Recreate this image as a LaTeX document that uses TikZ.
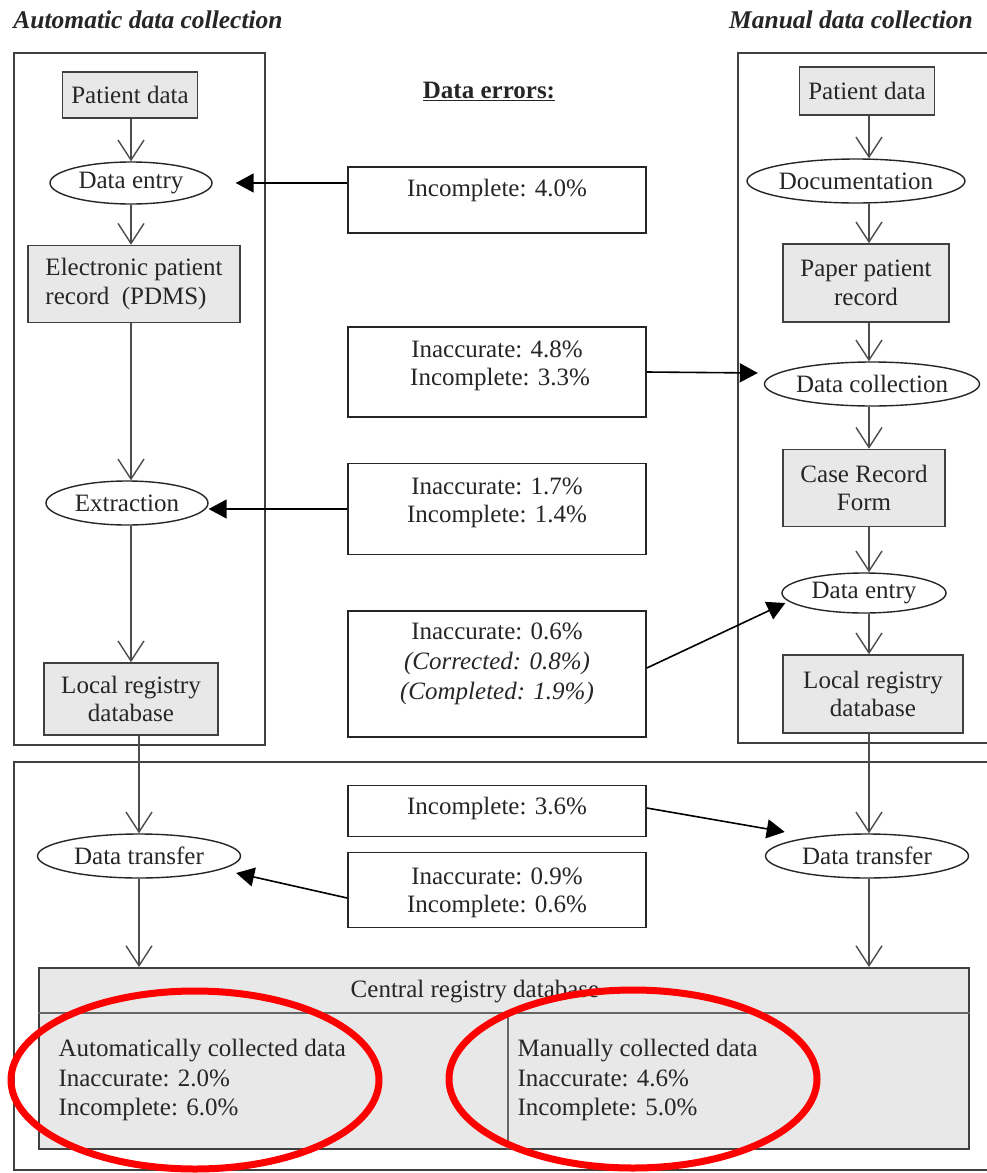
\documentclass[tikz,border=0pt]{standalone}
\usepackage{fontspec}
\setmainfont{Liberation Serif}
\usetikzlibrary{arrows.meta,shapes.geometric}
\begin{document}
\begin{tikzpicture}[x=1pt,y=-1pt,
 every node/.style={font=\fontsize{25}{28.5}\selectfont, text=black!85},
 frame/.style={draw=black!75, line width=1.4pt},
 gbox/.style={draw=black!75, line width=1.6pt, fill=black!9, align=center, inner sep=0pt},
 oval/.style={ellipse, draw=black!85, line width=1.4pt, inner sep=0pt},
 ebox/.style={draw=black!85, line width=1.6pt, inner sep=0pt, minimum width=298pt},
 txt/.style={align=center, inner sep=0pt},
 flow/.style={draw=black!70, line width=1.4pt, -{Straight Barb[length=20pt,width=26pt,line width=1.4pt]}},
 err/.style={draw=black, line width=1.6pt, -{Triangle[length=18pt,width=19pt]}},
 ring/.style={draw=red, line width=7pt}
]
\useasboundingbox (0,0) rectangle (987,1173);
\fill[white] (0,0) rectangle (987,1173);

% titles
\node[font=\fontsize{25.5}{28}\selectfont\bfseries\itshape] (tauto) at (148,20) {Automatic data collection};
\node[font=\fontsize{25.5}{28}\selectfont\bfseries\itshape] (tman) at (851,20) {Manual data collection};
\node[font=\fontsize{25}{28}\selectfont\bfseries] (terr) at (489,91) {\underline{Data errors:}};

% containers
\draw[frame] (14,53) rectangle (265,745);
\draw[frame] (992,53) -- (738,53) -- (738,743) -- (992,743);
\draw[frame] (992,762) -- (14,762) -- (14,1170) -- (992,1170);

% helper columns
\coordinate (lx) at (131,0);
\coordinate (lx2) at (139,0);
\coordinate (rx) at (869,0);
\coordinate (mx) at (508,1013);

% left column
\node[gbox, minimum width=135pt, minimum height=46pt] (lpd) at (130,95) {Patient data};
\node[oval, minimum width=162pt, minimum height=42pt] (lde) at (131,183) {Data entry};
\node[gbox, minimum width=212pt, minimum height=77pt, align=left] (lepr) at (134,284) {Electronic patient\\record~~(PDMS)};
\node[oval, minimum width=162pt, minimum height=44pt] (lext) at (127,503) {Extraction};
\node[gbox, minimum width=174pt, minimum height=72pt] (llrd) at (131,699) {Local registry\\database};
\node[oval, minimum width=203pt, minimum height=44pt] (ldt) at (139,856) {Data transfer};

% right column
\node[gbox, minimum width=135pt, minimum height=48pt] (rpd) at (867,91) {Patient data};
\node[oval, minimum width=210pt, minimum height=44pt] (rdoc) at (856,181) {Documentation};
\node[gbox, minimum width=166pt, minimum height=78pt] (rppr) at (866,283) {Paper patient\\record};
\node[oval, minimum width=210pt, minimum height=44pt] (rdc) at (872,384) {Data collection};
\node[gbox, minimum width=162pt, minimum height=77pt] (rcrf) at (864,488) {Case Record\\Form};
\node[oval, minimum width=164pt, minimum height=40pt] (rde) at (864,593) {Data entry};
\node[gbox, minimum width=180pt, minimum height=78pt] (rlrd) at (873,694) {Local registry\\database};
\node[oval, minimum width=203pt, minimum height=44pt] (rdt) at (867,856) {Data transfer};

% central registry database
\node[gbox, anchor=north west, minimum width=930pt, minimum height=181pt] (cdb) at (38,967) {};
\draw[draw=black!60, line width=1.4pt] (cdb.west |- mx) -- (cdb.east |- mx);
\draw[draw=black!60, line width=1.2pt] (mx) -- (mx |- cdb.south);
\node (cdbh) at (475,992) {Central registry database};
\node[anchor=west, align=left, font=\fontsize{25}{29.5}\selectfont] (cauto) at (55,1080) {Automatically collected data\\Inaccurate: 2.0\%\\Incomplete: 6.0\%};
\node[anchor=west, align=left, font=\fontsize{25}{29.5}\selectfont] (cman) at (514,1080) {Manually collected data\\Inaccurate: 4.6\%\\Incomplete: 5.0\%};

% error boxes
\node[ebox, minimum height=66pt] (e1) at (497,200) {};
\node[txt] (e1t) at (497,190) {Incomplete: 4.0\%};
\node[ebox, minimum height=90pt] (e2) at (497,372) {};
\node[txt] (e2t) at (497,366) {Inaccurate: 4.8\%\\~Incomplete: 3.3\%};
\node[ebox, minimum height=91pt] (e3) at (497,509) {};
\node[txt] (e3t) at (497,503) {Inaccurate: 1.7\%\\Incomplete: 1.4\%};
\node[ebox, minimum height=126pt] (e4) at (497,674) {};
\node[txt, font=\fontsize{25}{30}\selectfont] (e4t) at (497,664) {Inaccurate: 0.6\%\\\textit{(Corrected: 0.8\%)}\\\textit{(Completed: 1.9\%)}};
\node[ebox, minimum height=51pt] (e5) at (497,811) {};
\node[txt] (e5t) at (497,808) {Incomplete: 3.6\%};
\node[ebox, minimum height=75pt] (e6) at (497,890) {};
\node[txt] (e6t) at (497,893) {Inaccurate: 0.9\%\\Incomplete: 0.6\%};

% flow arrows left
\draw[flow] (lx |- lpd.south) -- (lx |- lde.north);
\draw[flow] (lx |- lde.south) -- (lx |- lepr.north);
\draw[flow] (lx |- lepr.south) -- (lx |- lext.north);
\draw[flow] (lx |- lext.south) -- (lx |- llrd.north);
\draw[flow] (lx2 |- llrd.south) -- (lx2 |- ldt.north);
\draw[flow] (lx2 |- ldt.south) -- (lx2 |- cdb.north);

% flow arrows right
\draw[flow] (rx |- rpd.south) -- (rx |- rdoc.north);
\draw[flow] (rx |- rdoc.south) -- (rx |- rppr.north);
\draw[flow] (rx |- rppr.south) -- (rx |- rdc.north);
\draw[flow] (rx |- rdc.south) -- (rx |- rcrf.north);
\draw[flow] (rx |- rcrf.south) -- (rx |- rde.north);
\draw[flow] (rx |- rde.south) -- (rx |- rlrd.north);
\draw[flow] (rx |- rlrd.south) -- (rx |- rdt.north);
\draw[flow] (rx |- rdt.south) -- (rx |- cdb.north);

% error arrows
\draw[err] (e1.west |- lde) -- ([xshift=23pt]lde.east);
\draw[err] (e2.east) -- ([xshift=-6pt,yshift=11pt]rdc.west);
\draw[err] (e3.west) -- (e3.west -| lext.east);
\draw[err] ([yshift=6pt]e4.east) -- ([xshift=4pt,yshift=-10pt]rde.west);
\draw[err] ([yshift=3pt]e5.east) -- ([xshift=-10pt,yshift=8pt]rdt.north west);
\draw[err] ([yshift=-8pt]e6.west) -- ([xshift=-5pt,yshift=-17pt]ldt.east);

% red highlight rings
\draw[ring] (195,1080) ellipse [x radius=184pt, y radius=89pt];
\draw[ring] (633,1079) ellipse [x radius=184pt, y radius=89pt];
\end{tikzpicture}
\end{document}
